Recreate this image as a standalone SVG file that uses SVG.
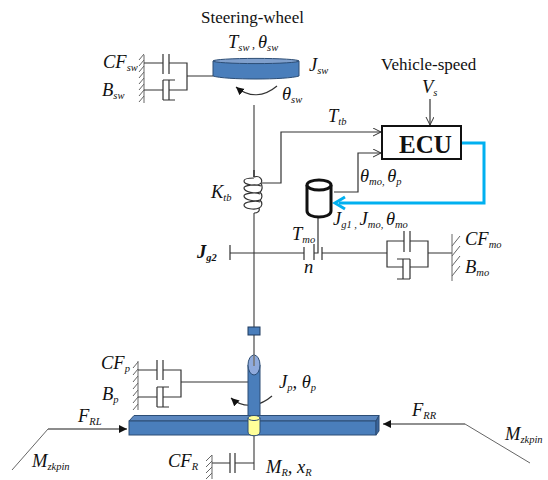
<svg xmlns="http://www.w3.org/2000/svg" width="548" height="480" viewBox="0 0 548 480">
<defs>
<style>
text{font-family:"Liberation Serif","Times New Roman",serif;fill:#111}
.i{font-style:italic;font-size:18.500px}
.s{font-size:10.500px}
.n{font-size:17px}
.l{fill:none;stroke:#333;stroke-width:1.2}
.g{fill:none;stroke:#777;stroke-width:1.6}
.h{fill:none;stroke:#666;stroke-width:1}
.bl{fill:#4a7ebb;stroke:#2c4d75;stroke-width:1}
</style>
<marker id="open" markerWidth="10" markerHeight="10" refX="9" refY="4" orient="auto" markerUnits="userSpaceOnUse"><path d="M1 0L9 4L1 8" fill="none" stroke="#333" stroke-width="1"/></marker>
<marker id="solid" markerWidth="9" markerHeight="9" refX="8" refY="4" orient="auto" markerUnits="userSpaceOnUse"><path d="M0 0L8 4L0 8z" fill="#111"/></marker>
</defs>

<g id="connectors">
<path class="g" d="M254 105V170M254 213V327M254 335V355M254 435V470"/>
<path class="l" d="M262 183H281V132H381" marker-end="url(#open)"/>
<path class="l" d="M334 192H358V153H381" marker-end="url(#open)"/>
<path class="l" d="M430 99V125" marker-end="url(#open)"/>
<path d="M461 143H484V203H339" fill="none" stroke="#00b0f0" stroke-width="3"/>
<path d="M345 197L335 203L345 209" fill="none" stroke="#00b0f0" stroke-width="3"/>
<path class="l" d="M318 217V253H314M230 253H304M322 253H387M428 253H452"/>
<path class="l" d="M230 245V260M304 247V260M314 244V260M322 247V260"/>
<path class="l" d="M277 86C264 97 249 98 236 87" marker-end="url(#solid)"/>
<path class="l" d="M272 396C258 408 242 408 231 398" marker-end="url(#solid)"/>
<path d="M48 429H127" fill="none" stroke="#666" stroke-width="1.6" marker-end="url(#solid)"/>
<path class="h" d="M48 429L12 470"/>
<path d="M465 424H383" fill="none" stroke="#222" stroke-width="1.2" marker-end="url(#solid)"/>
<path class="h" d="M465 424L530 463"/>
<path class="l" d="M181 382H254"/>
</g>

<g id="steering-wheel">
<path class="bl" d="M213 61V76C225 80 287 80 299 76V61z"/>
<ellipse cx="256" cy="61" rx="43" ry="2.600" fill="#7f9fcc" stroke="#2c4d75"/>
</g>
<g id="sw-damper">
<path class="h" d="M144 55V103M139 60L144 54M139 66L144 60M139 72L144 66M139 78L144 72M139 84L144 78M139 90L144 84M139 96L144 90M139 102L144 96"/>
<path class="l" d="M144 63H163M163 54V74M169 54V74M169 63H187V90H169M187 76H213M144 90H163M163 80V100M175 80H163M163 100H175M169 80V100"/>
</g>
<g id="torsion-bar">
<path d="M254 170V177" fill="none" stroke="#222" stroke-width="1.600"/>
<path class="l" d="M254 177C260 175 263 180 261 183C258 187 244 185 244 181C244 178 250 178 254 178M261 183C263 187 262 191 260 192C256 194 244 192 244 188C244 185 256 184 261 186M260 192C263 195 262 199 260 200C256 202 244 200 244 196C244 193 256 192 260 194M260 200C263 203 262 207 259 208C255 210 244 209 244 205C244 202 256 200 260 202M259 208C260 211 258 213 254 213"/>
</g>
<g id="ecu">
<rect x="382" y="126" width="79" height="33" fill="#fff" stroke="#111" stroke-width="2"/>
<text x="399" y="153" style="font-size:25px;font-weight:bold">ECU</text>
</g>
<g id="motor">
<path d="M307 185V211C307 219 331 219 331 211V185" fill="#fff" stroke="#111" stroke-width="3"/>
<ellipse cx="319" cy="185" rx="12" ry="5" fill="#fff" stroke="#111" stroke-width="3"/>
</g>
<g id="mo-damper">
<path class="l" d="M387 253V241H404M404 231V252M410 231V252M410 241H428V267H410M387 253V267H403M397 259H410M403 259V279M410 259V279M397 279H410"/>
<path class="h" d="M452 234V281M452 246L460 236M452 256L460 246M452 266L460 256M452 276L460 266"/>
</g>
<g id="pinion">
<rect x="248" y="327" width="12" height="8" fill="#4a7ebb" stroke="#1f3a5f"/>
<path class="bl" d="M248 365V424H260V365z"/>
<ellipse cx="254" cy="365" rx="6" ry="10" fill="#8faadc" stroke="#2c4d75"/>
<path class="g" d="M254 355V366"/>
</g>
<g id="p-damper">
<path class="h" d="M138 361V410M133 368L138 362M133 375L138 369M133 382L138 376M133 389L138 383M133 396L138 390M133 403L138 397M133 410L138 404"/>
<path class="l" d="M138 370H157M157 360V380M163 360V380M163 370H181V397H163M138 397H157M157 387V407M157 387H169M157 407H169M163 387V407"/>
</g>
<g id="rack">
<path d="M129 421L134 415.500H379L376 421z" fill="#5b87bf" stroke="#2c4d75"/>
<rect x="129" y="421" width="247" height="14" fill="#4a7ebb" stroke="#2c4d75"/>
<path d="M376 421L379 415.500V431L376 435z" fill="#3a659b" stroke="#2c4d75"/>
<path d="M248 418V432C248 437 260 437 260 432V418z" fill="#ffff99" stroke="#2c4d75"/>
<ellipse cx="254" cy="418" rx="6" ry="2.500" fill="#ffff99" stroke="#2c4d75"/>
</g>
<g id="r-damper">
<path class="h" d="M212 455V479M206 461L212 455M206 467L212 461M206 473L212 467M206 479L212 473"/>
<path class="l" d="M212 463H230M230 453V473M235 453V473M235 463H254"/>
</g>

<g id="labels">
<text class="n" x="201" y="23">Steering-wheel</text>
<text class="i" x="228" y="48">T<tspan class="s" dy="3">sw </tspan><tspan dy="-3" style="font-size:12px">,  </tspan><tspan dy="0"> θ</tspan><tspan class="s" dy="3">sw</tspan></text>
<text class="i" x="103" y="68">CF<tspan class="s" dy="3">sw</tspan></text>
<text class="i" x="102" y="96">B<tspan class="s" dy="3">sw</tspan></text>
<text class="i" x="309" y="71">J<tspan class="s" dy="3">sw</tspan></text>
<text class="i" x="282" y="100">θ<tspan class="s" dy="3">sw</tspan></text>
<text class="n" x="381" y="70">Vehicle-speed</text>
<text class="i" x="422" y="93">V<tspan class="s" dy="3">s</tspan></text>
<text class="i" x="328" y="122">T<tspan class="s" dy="3">tb</tspan></text>
<text class="i" x="211" y="198">K<tspan class="s" dy="3">tb</tspan></text>
<text class="i" x="360" y="182">θ<tspan class="s" dy="3">mo, </tspan><tspan dy="-3">θ</tspan><tspan class="s" dy="3">p</tspan></text>
<text class="i" x="333" y="225">J<tspan class="s" dy="3">g1 , </tspan><tspan dy="-3">J</tspan><tspan class="s" dy="3">mo, </tspan><tspan dy="-3">θ</tspan><tspan class="s" dy="3">mo</tspan></text>
<text class="i" x="292" y="240">T<tspan class="s" dy="3">mo</tspan></text>
<text class="i" x="304" y="273">n</text>
<text class="i" x="197" y="258" style="font-weight:bold">J<tspan class="s" dy="3">g2</tspan></text>
<text class="i" x="465" y="245">CF<tspan class="s" dy="3">mo</tspan></text>
<text class="i" x="465" y="273">B<tspan class="s" dy="3">mo</tspan></text>
<text class="i" x="101" y="369">CF<tspan class="s" dy="3">p</tspan></text>
<text class="i" x="102" y="400">B<tspan class="s" dy="3">p</tspan></text>
<text class="i" x="279" y="388">J<tspan class="s" dy="3">p</tspan><tspan dy="-3">, θ</tspan><tspan class="s" dy="3">p</tspan></text>
<text class="i" x="78" y="422">F<tspan class="s" dy="3">RL</tspan></text>
<text class="i" x="412" y="416">F<tspan class="s" dy="3">RR</tspan></text>
<text class="i" x="32" y="467">M<tspan class="s" dy="3">zkpin</tspan></text>
<text class="i" x="505" y="440">M<tspan class="s" dy="3">zkpin</tspan></text>
<text class="i" x="168" y="467">CF<tspan class="s" dy="3">R</tspan></text>
<text class="i" x="266" y="473">M<tspan class="s" dy="3">R</tspan><tspan dy="-3">, x</tspan><tspan class="s" dy="3">R</tspan></text>
</g>
</svg>
